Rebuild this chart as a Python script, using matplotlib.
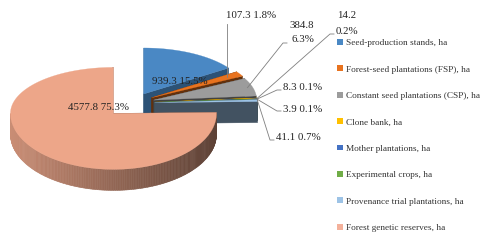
import numpy as np
import matplotlib
matplotlib.use("Agg")
import matplotlib.pyplot as plt
from matplotlib.patches import Polygon, Patch
from matplotlib.colors import to_rgb

plt.rcParams['font.family'] = ['Liberation Serif', 'DejaVu Serif']

# data
categories = ["Seed-production stands, ha",
              "Forest-seed plantations (FSP), ha",
              "Constant seed plantations (CSP), ha",
              "Clone bank, ha",
              "Mother plantations, ha",
              "Experimental crops, ha",
              "Provenance trial plantations, ha",
              "Forest genetic reserves, ha"]
areas = [939.3, 107.3, 384.8, 14.2, 8.3, 3.9, 41.1, 4577.8]
colors = ["#4a88c4", "#e8731f", "#9c9c9c", "#ffc000",
          "#4472c4", "#70ad47", "#9dc3e6", "#eda689"]
explode = [0.2, 0.2, 0.2, 0.2, 0.2, 0.2, 0.2, 0.285]

# layout (pixel space)
W, H = 480, 240
cx, cy = 134, 103
rx, ry_back, ry_front = 103, 46, 56
depth = 21


def darken(c, f):
    r, g, b = to_rgb(c)
    return (r * f, g * f, b * f)


def pt(sx, sy, a, z=0.0, r=1.0):
    ca = np.cos(a)
    ry = ry_back if ca > 0 else ry_front
    return (sx + r * rx * np.sin(a), sy - r * ry * ca + z)


fig = plt.figure(figsize=(4.8, 2.4), dpi=100)
ax = fig.add_axes([0, 0, 1, 1])
ax.set_xlim(0, W)
ax.set_ylim(H, 0)
ax.axis('off')

total = sum(areas)
bounds = np.concatenate([[0], np.cumsum(areas)]) / total * 2 * np.pi
slices = []
for i, v in enumerate(areas):
    a0, a1 = bounds[i], bounds[i + 1]
    m = (a0 + a1) / 2
    ry_m = (ry_back + ry_front) / 2
    sx = cx + explode[i] * rx * np.sin(m)
    sy = cy - explode[i] * ry_m * np.cos(m)
    slices.append((i, a0, a1, m, sx, sy))

# back to front
for i, a0, a1, m, sx, sy in sorted(slices, key=lambda s: s[5]):
    col = colors[i]
    wf = 0.6 if i == 0 else 0.42
    walls_back, walls_front = [], []
    for a, b in ((a0, a0 - np.pi / 2), (a1, a1 + np.pi / 2)):
        poly = [(sx, sy), pt(sx, sy, a), pt(sx, sy, a, depth), (sx, sy + depth)]
        (walls_front if np.cos(b) < 0 else walls_back).append(poly)
    for poly in walls_back + walls_front:
        ax.add_patch(Polygon(poly, closed=True, fc=darken(col, wf),
                             ec=darken(col, wf), lw=0.3))
    n = max(2, int(np.degrees(a1 - a0)))
    ts = np.linspace(a0, a1, n + 1)
    for t0, t1 in zip(ts[:-1], ts[1:]):
        tm = (t0 + t1) / 2
        if np.cos(tm) < 0:
            f = 0.62 - 0.23 * np.sin(tm)
            q = [pt(sx, sy, t0), pt(sx, sy, t1), pt(sx, sy, t1, depth), pt(sx, sy, t0, depth)]
            ax.add_patch(Polygon(q, closed=True, fc=darken(col, f), ec=darken(col, f), lw=0.4))
    top = [(sx, sy)] + [pt(sx, sy, t) for t in ts]
    ax.add_patch(Polygon(top, closed=True, fc=col, ec=col, lw=0.2))

# data labels
lab_kw = dict(fontsize=7.8, color="#222222")
pct = [v / total * 100 for v in areas]
s = {sl[0]: sl for sl in slices}

ax.text(180, 82, f"{areas[0]} {pct[0]:.1f}%", ha='center', va='center', **lab_kw)
ax.text(99, 108, f"{areas[7]} {pct[7]:.1f}%", ha='center', va='center', **lab_kw)

lead = dict(color="#7f7f7f", lw=0.6)
# FSP
i, a0, a1, m, sx, sy = s[1]
tip = pt(sx, sy, m, r=0.85)
ax.text(226, 16, f"{areas[1]} {pct[1]:.1f}%", ha='left', va='center', **lab_kw)
ax.plot([tip[0], tip[0]], [24, tip[1]], **lead)
# CSP
i, a0, a1, m, sx, sy = s[2]
tip = pt(sx, sy, m, r=0.95)
ax.text(314, 25, f"{areas[2]}", ha='right', va='center', **lab_kw)
ax.text(314, 40, f"{pct[2]:.1f}%", ha='right', va='center', **lab_kw)
ax.plot([287, 283, tip[0]], [43, 43, tip[1]], **lead)
# Clone bank
i, a0, a1, m, sx, sy = s[3]
tip = pt(sx, sy, m)
ax.text(347, 15, f"{areas[3]}", ha='center', va='center', **lab_kw)
ax.text(347, 31, f"{pct[3]:.1f}%", ha='center', va='center', **lab_kw)
ax.plot([334, 330, tip[0]], [34, 34, tip[1]], **lead)
# Mother / experimental / provenance
for k, (tx, ty) in zip([4, 5, 6], [(283, 88), (283, 109), (276, 137)]):
    i, a0, a1, m, sx, sy = s[k]
    tip = pt(sx, sy, m)
    ax.text(tx, ty, f"{areas[k]} {pct[k]:.1f}%", ha='left', va='center', **lab_kw)
    if k == 6:
        ax.plot([tx - 2, tx - 6, tx - 12, tip[0]], [ty + 3, ty + 3, ty - 16, tip[1]], **lead)
    else:
        ax.plot([tx - 2, tx - 6, tip[0]], [ty + 2, ty + 2, tip[1]], **lead)

# legend
legend_cols = colors[:-1] + ["#f4b19b"]
handles = [Patch(fc=c, ec='none') for c in legend_cols]
ax.legend(handles, categories, loc='upper left', bbox_to_anchor=(337 / W, 1 - 39 / H),
          frameon=False, fontsize=6.7, handlelength=0.6, handleheight=0.6,
          handletextpad=0.4, labelspacing=1.95, borderpad=0, borderaxespad=0,
          labelcolor="#333333")

fig.savefig("out.png", dpi=100)
